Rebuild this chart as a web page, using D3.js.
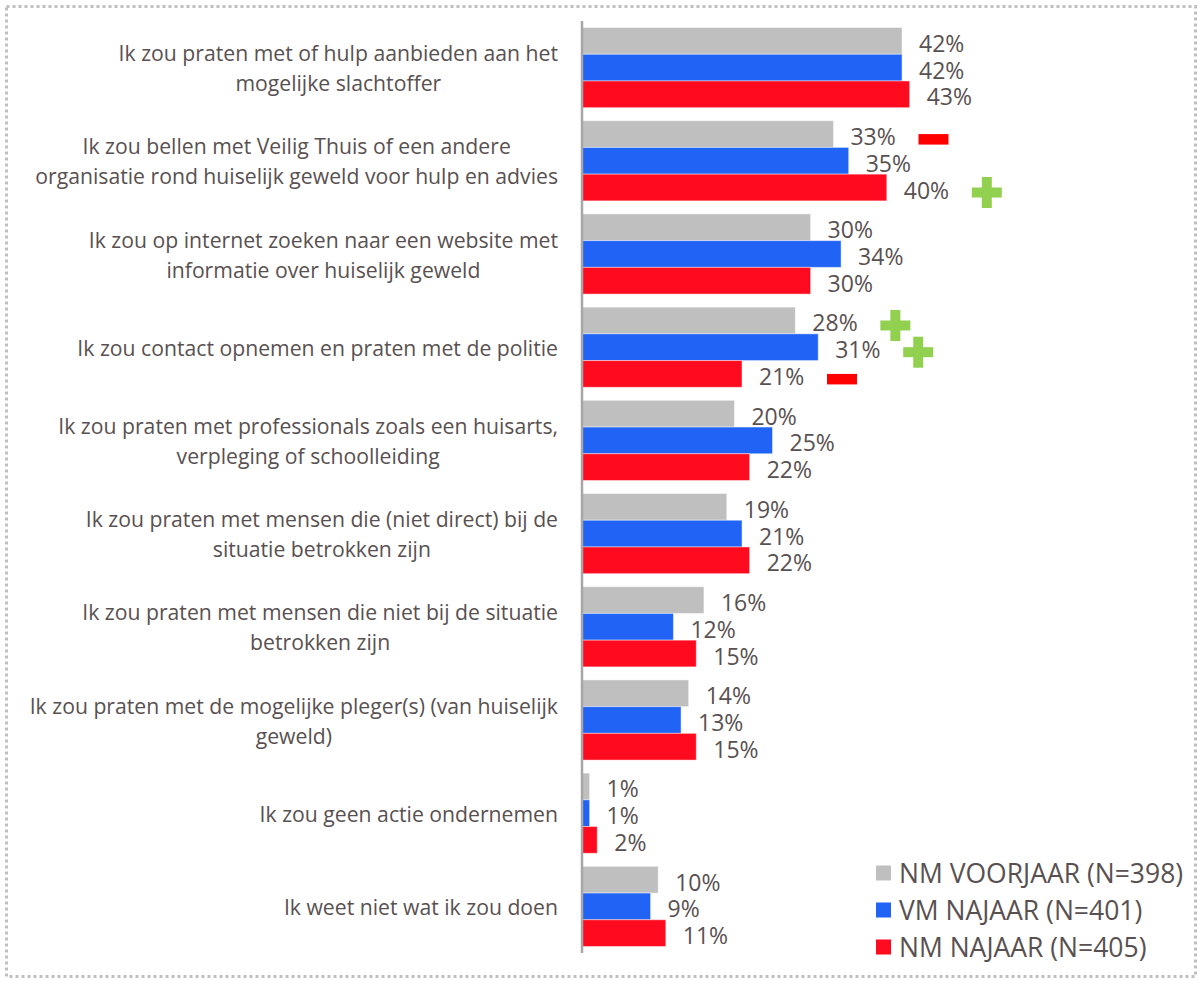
<!DOCTYPE html>
<html>
<head>
<meta charset="utf-8">
<script src="https://cdn.jsdelivr.net/npm/d3@7"></script>
<style>
  html, body { margin: 0; padding: 0; background: #fff; }
  svg { display: block; font-family: "Open Sans", sans-serif; }
</style>
</head>
<body>
<svg id="chart" width="1202" height="981"></svg>
<script>
// Answer options (line breaks as laid out in the chart)
const categories = [
  ["Ik zou praten met of hulp aanbieden aan het", "mogelijke slachtoffer"],
  ["Ik zou bellen met Veilig Thuis of een andere", "organisatie rond huiselijk geweld voor hulp en advies"],
  ["Ik zou op internet zoeken naar een website met", "informatie over huiselijk geweld"],
  ["Ik zou contact opnemen en praten met de politie"],
  ["Ik zou praten met professionals zoals een huisarts,", "verpleging of schoolleiding"],
  ["Ik zou praten met mensen die (niet direct) bij de", "situatie betrokken zijn"],
  ["Ik zou praten met mensen die niet bij de situatie", "betrokken zijn"],
  ["Ik zou praten met de mogelijke pleger(s) (van huiselijk", "geweld)"],
  ["Ik zou geen actie ondernemen"],
  ["Ik weet niet wat ik zou doen"]
];

const seriesNames = ["NM VOORJAAR (N=398)", "VM NAJAAR (N=401)", "NM NAJAAR (N=405)"];
const seriesColors = ["#bfbfbf", "#2163f4", "#ff0a1e"];

// Percentages per series, in category order
const nmVoorjaar = [42, 33, 30, 28, 20, 19, 16, 14, 1, 10];
const vmNajaar   = [42, 35, 34, 31, 25, 21, 12, 13, 1, 9];
const nmNajaar   = [43, 40, 30, 21, 22, 22, 15, 15, 2, 11];
const seriesValues = [nmVoorjaar, vmNajaar, nmNajaar];

// Significant changes: category index, series index, direction
const changeCategory = [1, 1, 3, 3, 3];
const changeSeries   = [0, 2, 0, 1, 2];
const changeType     = ["down", "up", "up", "up", "down"];

const svg = d3.select("#chart");
const textColor = "#595151";

// Dotted frame
svg.append("rect")
  .attr("x", 6.5).attr("y", 6.5)
  .attr("width", 1189).attr("height", 970)
  .attr("fill", "none")
  .attr("stroke", "#bfbfbf")
  .attr("stroke-width", 3)
  .attr("stroke-dasharray", "3,3");

const axisX = 582;
const x = d3.scaleLinear().domain([0, 50]).range([axisX, axisX + 381]);

const y = d3.scaleBand()
  .domain(d3.range(categories.length))
  .range([21, 953])
  .paddingInner(0.14)
  .paddingOuter(0.07);

const ySeries = d3.scaleBand()
  .domain(d3.range(seriesNames.length))
  .range([0, y.bandwidth()]);

// Bars
const groups = svg.append("g").selectAll("g")
  .data(categories.map((c, i) => i))
  .join("g")
  .attr("transform", i => `translate(0,${y(i)})`);

groups.selectAll("rect")
  .data(i => seriesValues.map((vals, s) => ({ s, v: vals[i] })))
  .join("rect")
  .attr("x", x(0))
  .attr("y", d => ySeries(d.s))
  .attr("width", d => x(d.v) - x(0))
  .attr("height", ySeries.bandwidth())
  .attr("fill", d => seriesColors[d.s])
  .attr("stroke", "#ffffff")
  .attr("stroke-opacity", 0.45)
  .attr("stroke-width", 1);

// Value labels
groups.selectAll("text.val")
  .data(i => seriesValues.map((vals, s) => ({ s, v: vals[i] })))
  .join("text")
  .attr("class", "val")
  .attr("x", d => x(d.v) + 17)
  .attr("y", d => ySeries(d.s) + ySeries.bandwidth() / 2 + 2)
  .attr("dominant-baseline", "central")
  .attr("font-size", 23)
  .attr("fill", textColor)
  .text(d => d.v + "%");

// Vertical axis line
svg.append("line")
  .attr("x1", axisX).attr("x2", axisX)
  .attr("y1", 21).attr("y2", 953)
  .attr("stroke", "#a6a6a6")
  .attr("stroke-width", 2.5);

// Category labels: each block centred on itself, right edge aligned
const labelRight = 558;
const lineH = 30;
const labelG = svg.append("g");
categories.forEach((lines, i) => {
  const g = labelG.append("g");
  const cy = y(i) + y.bandwidth() / 2;
  const tmp = lines.map(t => g.append("text")
    .attr("font-size", 21.2)
    .attr("fill", textColor)
    .attr("dominant-baseline", "central")
    .attr("text-anchor", "middle")
    .text(t));
  const maxW = d3.max(tmp, t => t.node().getComputedTextLength());
  const cx = labelRight - maxW / 2;
  tmp.forEach((t, k) => {
    t.attr("x", cx)
     .attr("y", cy + (k - (lines.length - 1) / 2) * lineH);
  });
});

// Change markers
const markG = svg.append("g");
changeCategory.forEach((c, k) => {
  const s = changeSeries[k];
  const v = seriesValues[s][c];
  const cx = x(v) + 100;
  const cy = y(c) + ySeries(s) + ySeries.bandwidth() / 2 + 5;
  if (changeType[k] === "down") {
    markG.append("rect")
      .attr("x", cx - 15).attr("y", cy - 5)
      .attr("width", 30).attr("height", 10.5)
      .attr("fill", "#ff0000");
  } else {
    markG.append("rect")
      .attr("x", cx - 15).attr("y", cy - 5)
      .attr("width", 30).attr("height", 10)
      .attr("fill", "#92d050");
    markG.append("rect")
      .attr("x", cx - 5).attr("y", cy - 15.5)
      .attr("width", 10).attr("height", 31)
      .attr("fill", "#92d050");
  }
});

// Legend
const legend = svg.append("g")
  .attr("transform", "translate(876,873)");
const legendRows = legend.selectAll("g")
  .data(seriesNames.map((n, i) => i))
  .join("g")
  .attr("transform", i => `translate(0,${i * 37})`);
legendRows.append("rect")
  .attr("x", 0).attr("y", -7.5)
  .attr("width", 15).attr("height", 15)
  .attr("fill", i => seriesColors[i]);
legendRows.append("text")
  .attr("x", 23).attr("y", 0)
  .attr("dominant-baseline", "central")
  .attr("font-size", 26.5)
  .attr("fill", textColor)
  .text(i => seriesNames[i]);
</script>
</body>
</html>
